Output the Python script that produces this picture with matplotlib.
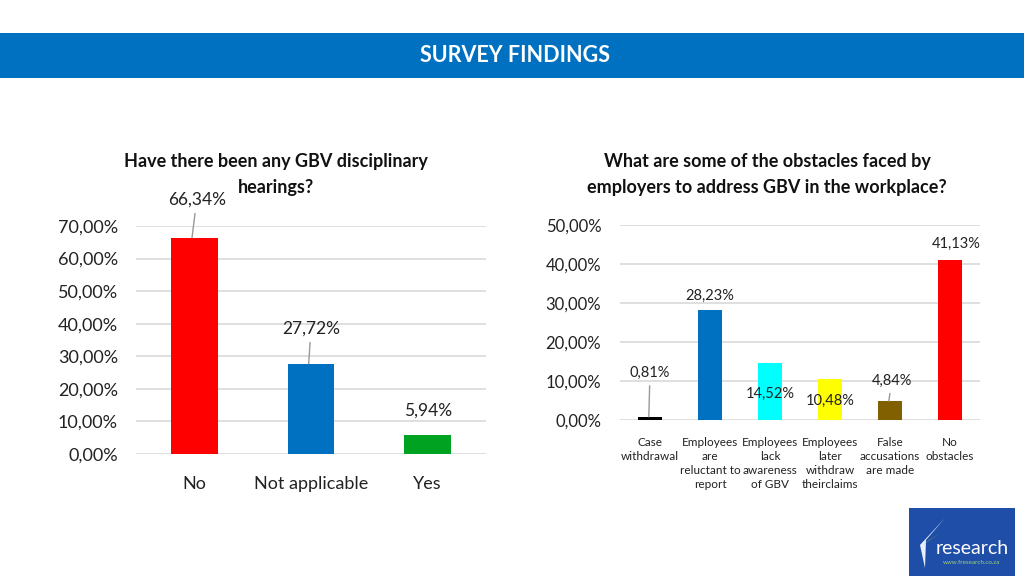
import matplotlib
matplotlib.use('Agg')
import matplotlib.pyplot as plt
from matplotlib.patches import Rectangle, Polygon

plt.rcParams['font.family'] = ['Lato', 'DejaVu Sans']

# left chart data
left_title = ['Have there been any GBV disciplinary', 'hearings?']
left_cats = ['No', 'Not applicable', 'Yes']
left_vals = [66.34, 27.72, 5.94]
left_colors = ['#FF0000', '#0070C0', '#00A321']

# right chart data
right_title = ['What are some of the obstacles faced by', 'employers to address GBV in the workplace?']
right_cats = ['Case\nwithdrawal', 'Employees\nare\nreluctant to\nreport', 'Employees\nlack\nawareness\nof GBV',
              'Employees\nlater\nwithdraw\ntheirclaims', 'False\naccusations\nare made', 'No\nobstacles']
right_vals = [0.81, 28.23, 14.52, 10.48, 4.84, 41.13]
right_colors = ['#000000', '#0070C0', '#00FFFF', '#FFFF00', '#806000', '#FF0000']

def fmt(v):
    return f'{v:.2f}'.replace('.', ',') + '%'

W, H = 1024, 576
fig = plt.figure(figsize=(W / 100, H / 100), dpi=100)
fig.patch.set_facecolor('white')

# header band
fig.patches.append(Rectangle((0, 1 - 78 / H), 1, 45 / H, transform=fig.transFigure,
                             facecolor='#0070C0', edgecolor='none', zorder=0))
fig.text(515 / W, 1 - 56 / H, 'SURVEY FINDINGS', color='white', fontsize=15.5,
         fontweight='bold', ha='center', va='center')

def style_axes(ax, ymax, step, tick_fs, pad):
    ax.set_ylim(0, ymax)
    ax.set_yticks(range(0, ymax + 1, step))
    ax.set_yticklabels([f'{t},00%' for t in range(0, ymax + 1, step)], fontsize=tick_fs, color='#222222')
    ax.yaxis.grid(True, color='#D9D9D9', linewidth=1.2)
    ax.set_axisbelow(True)
    for s in ['top', 'right', 'left', 'bottom']:
        ax.spines[s].set_visible(False)
    ax.tick_params(axis='both', length=0)
    ax.tick_params(axis='y', pad=pad)

def label_bars(ax, vals, pos, leaders, fs):
    for i, v in enumerate(vals):
        lx, ly = pos[i]
        arrow = None
        if leaders[i]:
            arrow = dict(arrowstyle='-', color='#999999', lw=1, shrinkA=2, shrinkB=0)
        ax.annotate(fmt(v), xy=(i - 0.02, v), xytext=(i + lx, ly), ha='center', va='center',
                    fontsize=fs, color='#222222', arrowprops=arrow)

def title_lines(x, lines):
    for k, line in enumerate(lines):
        fig.text(x / W, 1 - (161 + 26 * k) / H, line, fontsize=13, fontweight='bold',
                 ha='center', va='center', color='#111111')

# ---- left chart
axl = fig.add_axes([136 / W, 1 - 454 / H, 350 / W, 228 / H])
axl.bar(range(len(left_cats)), left_vals, width=0.4, color=left_colors)
axl.set_xlim(-0.5, len(left_cats) - 0.5)
style_axes(axl, 70, 10, 13, 13)
axl.set_xticks(range(len(left_cats)))
axl.set_xticklabels(left_cats, fontsize=13, color='#222222')
axl.tick_params(axis='x', pad=16)
label_bars(axl, left_vals, [(0.02, 78.0), (0.0, 38.4), (0.0, 13.2)], [True, True, False], 12.5)
title_lines(276, left_title)

# ---- right chart
axr = fig.add_axes([620 / W, 1 - 420 / H, 360 / W, 195 / H])
axr.bar(range(len(right_cats)), right_vals, width=0.4, color=right_colors)
axr.set_xlim(-0.5, len(right_cats) - 0.5)
style_axes(axr, 50, 10, 12, 13.5)
axr.set_xticks(range(len(right_cats)))
axr.set_xticklabels(right_cats, fontsize=8.5, color='#222222', va='top', linespacing=1.35)
axr.tick_params(axis='x', pad=12)
label_bars(axr, right_vals, [(0.0, 12.0), (0.0, 31.8), (0.0, 6.7), (0.0, 4.9), (0.03, 10.0), (0.1, 45.1)],
           [True, False, False, False, True, False], 10.5)
title_lines(767, right_title)

# logo box
fig.patches.append(Rectangle((909 / W, 0), 106 / W, 68 / H, transform=fig.transFigure,
                             facecolor='#1F4EA8', edgecolor='none', zorder=0))
fig.patches.append(Polygon([(925 / W, 1 - 568 / H), (920 / W, 1 - 545 / H), (945 / W, 1 - 518 / H),
                            (926 / W, 1 - 540 / H)], closed=True, transform=fig.transFigure,
                           facecolor='#E8F0FF', edgecolor='none', zorder=1))
fig.patches.append(Polygon([(923 / W, 1 - 545 / H), (940 / W, 1 - 533 / H), (928 / W, 1 - 541 / H)],
                           closed=True, transform=fig.transFigure,
                           facecolor='#7CC242', edgecolor='none', zorder=1))
fig.text(972 / W, 1 - 548 / H, 'research', color='white', fontsize=14, ha='center', va='center')
fig.text(972 / W, 1 - 563 / H, 'www.fresearch.co.za', color='#9FD27A', fontsize=4.5,
         ha='center', va='center')

fig.savefig('out.png', dpi=100)
